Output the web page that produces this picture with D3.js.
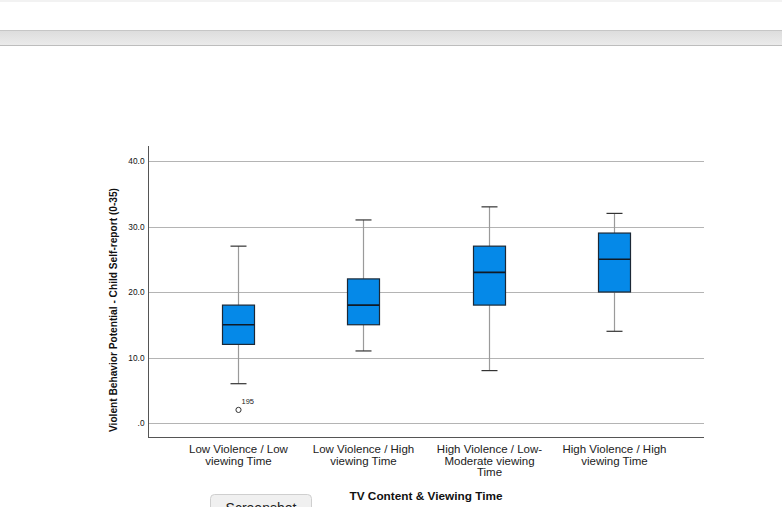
<!DOCTYPE html>
<html><head><meta charset="utf-8">
<script src="https://cdn.jsdelivr.net/npm/d3@7"></script>
<style>
html,body{margin:0;padding:0;background:#fff;overflow:hidden;}
svg{display:block;}
</style></head>
<body>
<svg id="c" width="782" height="507"></svg>
<script>
const categories = [
  ["Low Violence / Low", "viewing Time"],
  ["Low Violence / High", "viewing Time"],
  ["High Violence / Low-", "Moderate viewing", "Time"],
  ["High Violence / High", "viewing Time"]
];
const whiskerLow  = [6, 11, 8, 14];
const q1          = [12, 15, 18, 20];
const median      = [15, 18, 23, 25];
const q3          = [18, 22, 27, 29];
const whiskerHigh = [27, 31, 33, 32];
const outliers    = [{group: 0, value: 2, label: "195"}];
const yTicks = [0, 10, 20, 30, 40];
const yTickLabels = [".0", "10.0", "20.0", "30.0", "40.0"];

const svg = d3.select("#c");
const font = "'Liberation Sans', Arial, sans-serif";

// browser chrome
svg.append("rect").attr("x",0).attr("y",0).attr("width",782).attr("height",2).attr("fill","#f2f2f2");
const grad = svg.append("defs").append("linearGradient").attr("id","g").attr("x1",0).attr("y1",0).attr("x2",0).attr("y2",1);
grad.append("stop").attr("offset","0").attr("stop-color","#dcdcdc");
grad.append("stop").attr("offset","1").attr("stop-color","#ebebeb");
svg.append("rect").attr("x",0).attr("y",30).attr("width",782).attr("height",15).attr("fill","url(#g)");
svg.append("line").attr("x1",0).attr("x2",782).attr("y1",30.5).attr("y2",30.5).attr("stroke","#c6c6c6");
svg.append("line").attr("x1",0).attr("x2",782).attr("y1",45.5).attr("y2",45.5).attr("stroke","#bdbdbd");

const pL = 148, pR = 704, pT = 146, pB = 437;
const y = d3.scaleLinear().domain([0, 40]).range([423, 161]);
const x = d3.scaleBand().domain(d3.range(categories.length)).range([pL, pR]).paddingOuter(0.22).paddingInner(0);

// gridlines
svg.append("g").selectAll("line").data(yTicks).join("line")
  .attr("x1", pL).attr("x2", pR)
  .attr("y1", d => Math.round(y(d)) + 0.5).attr("y2", d => Math.round(y(d)) + 0.5)
  .attr("stroke", "#b4b4b4").attr("stroke-width", 1);

// y axis
const yAxis = d3.axisLeft(y).tickValues(yTicks).tickSize(0).tickFormat((d,i) => yTickLabels[i]);
const gy = svg.append("g").attr("transform", `translate(${pL + 0.5},0)`).call(yAxis);
gy.select(".domain").remove();
gy.selectAll(".tick line").remove();
gy.selectAll(".tick text").attr("font-family", font).attr("font-size", 8.3).attr("fill", "#111").attr("x", -4);
svg.append("line").attr("x1", pL + 0.5).attr("x2", pL + 0.5).attr("y1", pT).attr("y2", pB)
  .attr("stroke", "#555");
svg.append("line").attr("x1", pL).attr("x2", pR).attr("y1", pB + 0.5).attr("y2", pB + 0.5)
  .attr("stroke", "#555");

// boxes
const bw = 32, cw = 16;
const g = svg.append("g");
categories.forEach((c, i) => {
  const cx = Math.round(x(i) + x.bandwidth() / 2) + 0.5;
  g.append("line").attr("x1", cx).attr("x2", cx).attr("y1", y(whiskerHigh[i])).attr("y2", y(q3[i]))
    .attr("stroke", "#9a9a9a").attr("stroke-width", 1.2);
  g.append("line").attr("x1", cx).attr("x2", cx).attr("y1", y(q1[i])).attr("y2", y(whiskerLow[i]))
    .attr("stroke", "#9a9a9a").attr("stroke-width", 1.2);
  g.append("line").attr("x1", cx - cw/2).attr("x2", cx + cw/2).attr("y1", y(whiskerHigh[i])).attr("y2", y(whiskerHigh[i]))
    .attr("stroke", "#333").attr("stroke-width", 1.2);
  g.append("line").attr("x1", cx - cw/2).attr("x2", cx + cw/2).attr("y1", y(whiskerLow[i])).attr("y2", y(whiskerLow[i]))
    .attr("stroke", "#333").attr("stroke-width", 1.2);
  g.append("rect").attr("x", cx - bw/2).attr("width", bw)
    .attr("y", y(q3[i])).attr("height", y(q1[i]) - y(q3[i]))
    .attr("fill", "#0589e8").attr("stroke", "#1c2836").attr("stroke-width", 1.2);
  g.append("line").attr("x1", cx - bw/2).attr("x2", cx + bw/2).attr("y1", y(median[i])).attr("y2", y(median[i]))
    .attr("stroke", "#101a26").attr("stroke-width", 1.6);

  const t = svg.append("text").attr("font-family", font).attr("font-size", 11.5).attr("fill", "#222")
    .attr("text-anchor", "middle").attr("x", cx).attr("y", 453);
  c.forEach((line, k) => t.append("tspan").attr("x", cx).attr("dy", k === 0 ? 0 : 11.5).text(line));
});

outliers.forEach(o => {
  const cx = Math.round(x(o.group) + x.bandwidth() / 2) + 0.5;
  svg.append("circle").attr("cx", cx).attr("cy", y(o.value)).attr("r", 2.6)
    .attr("fill", "none").attr("stroke", "#333").attr("stroke-width", 1);
  svg.append("text").attr("x", cx + 3).attr("y", y(o.value) - 6).attr("font-family", font)
    .attr("font-size", 7.5).attr("fill", "#222").text(o.label);
});

// axis titles
svg.append("text").attr("transform", "translate(117,310) rotate(-90)").attr("text-anchor", "middle")
  .attr("font-family", font).attr("font-size", 11).attr("font-weight", "bold").attr("fill", "#111")
  .attr("textLength", 244).attr("lengthAdjust", "spacingAndGlyphs")
  .text("Violent Behavior Potential - Child Self-report (0-35)");
svg.append("text").attr("x", 426).attr("y", 500).attr("text-anchor", "middle")
  .attr("font-family", font).attr("font-size", 11.8).attr("font-weight", "bold").attr("fill", "#111")
  .text("TV Content & Viewing Time");

// screenshot button (partially visible)
svg.append("rect").attr("x", 210.5).attr("y", 494.5).attr("width", 101).attr("height", 24).attr("rx", 4)
  .attr("fill", "#f0f0f0").attr("stroke", "#cfcfcf");
svg.append("text").attr("x", 261).attr("y", 513).attr("text-anchor", "middle")
  .attr("font-family", font).attr("font-size", 14).attr("fill", "#222").text("Screenshot");
</script>
</body></html>
